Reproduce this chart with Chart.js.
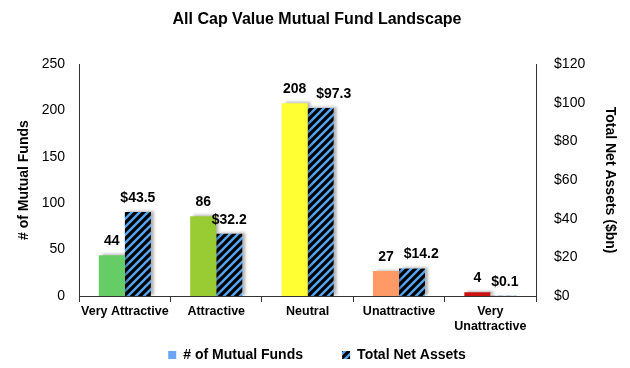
<!DOCTYPE html>
<html>
<head>
<meta charset="utf-8">
<script src="https://cdn.jsdelivr.net/npm/chart.js@4.4.1/dist/chart.umd.min.js"></script>
<style>
  html, body { margin: 0; padding: 0; background: #fff; }
</style>
</head>
<body>
<canvas id="chart" width="630" height="368"></canvas>
<script>
// data
const categories = ['Very Attractive', 'Attractive', 'Neutral', 'Unattractive', ['Very', 'Unattractive']];
const fundCounts = [44, 86, 208, 27, 4];
const netAssets = [43.5, 32.2, 97.3, 14.2, 0.1];
const barColors = ['#66CC66', '#99CC33', '#FFFF33', '#FF9966', '#CC1111'];
const leftTicks = [0, 250, 50];
const rightTicks = [0, 120, 20];

const FONT = '"Liberation Sans", Arial, sans-serif';

function makeHatch() {
  const c = document.createElement('canvas');
  c.width = 8; c.height = 8;
  const g = c.getContext('2d');
  g.fillStyle = '#000';
  g.fillRect(0, 0, 8, 8);
  g.strokeStyle = '#55A5F2';
  g.lineWidth = 2.4;
  g.beginPath();
  g.moveTo(-2, 10); g.lineTo(10, -2);
  g.moveTo(-6, 6); g.lineTo(6, -6);
  g.moveTo(2, 14); g.lineTo(14, 2);
  g.stroke();
  return g.createPattern(c, 'repeat');
}
const hatch = makeHatch();

// grey drop shadow behind the bars
const shadowPlugin = {
  id: 'barShadow',
  beforeDatasetsDraw(chart) {
    const ctx = chart.ctx;
    ctx.save();
    ctx.shadowColor = 'rgba(0,0,0,0.3)';
    ctx.shadowBlur = 3;
    ctx.shadowOffsetX = 3;
    ctx.shadowOffsetY = -1;
  },
  afterDatasetsDraw(chart) {
    chart.ctx.restore();
  }
};

// value labels above bars, the $ label is nudged right when it hits the count label
const labelPlugin = {
  id: 'valueLabels',
  afterDatasetsDraw(chart) {
    const ctx = chart.ctx;
    ctx.save();
    ctx.font = 'bold 14px ' + FONT;
    ctx.fillStyle = '#000';
    ctx.textAlign = 'center';
    ctx.textBaseline = 'middle';
    const m0 = chart.getDatasetMeta(0).data;
    const m1 = chart.getDatasetMeta(1).data;
    categories.forEach((c, i) => {
      const t0 = String(fundCounts[i]);
      const t1 = '$' + netAssets[i].toFixed(1);
      const y0 = m0[i].y - 14, y1 = m1[i].y - 14;
      let x1 = m1[i].x;
      const w0 = ctx.measureText(t0).width, w1 = ctx.measureText(t1).width;
      const right0 = m0[i].x + w0 / 2;
      if (Math.abs(y0 - y1) < 16 && x1 - w1 / 2 < right0 + 10) {
        x1 = right0 + 10 + w1 / 2;
      }
      ctx.fillText(t0, m0[i].x, y0);
      ctx.fillText(t1, x1, y1);
    });
    ctx.restore();
  }
};

// push the legend a few px lower
const legendNudge = {
  id: 'legendNudge',
  afterLayout(chart) {
    chart.legend.top += 4;
    chart.legend.bottom += 4;
  }
};

new Chart(document.getElementById('chart'), {
  type: 'bar',
  data: {
    labels: categories,
    datasets: [
      {
        label: '# of Mutual Funds',
        data: fundCounts,
        backgroundColor: barColors,
        yAxisID: 'y',
        categoryPercentage: 0.57,
        barPercentage: 1
      },
      {
        label: 'Total Net Assets',
        data: netAssets,
        backgroundColor: hatch,
        yAxisID: 'y1',
        categoryPercentage: 0.57,
        barPercentage: 1
      }
    ]
  },
  options: {
    responsive: false,
    devicePixelRatio: 1,
    animation: false,
    layout: { padding: { left: 12, right: 8, top: 4, bottom: 0 } },
    plugins: {
      title: {
        display: true,
        text: 'All Cap Value Mutual Fund Landscape',
        font: { family: FONT, size: 16, weight: 'bold' },
        color: '#000',
        padding: { top: 6, bottom: 35 }
      },
      legend: {
        position: 'bottom',
        labels: {
          font: { family: FONT, size: 14, weight: 'bold' },
          color: '#000',
          boxWidth: 8,
          boxHeight: 8,
          padding: 8,
          generateLabels(chart) {
            return [
              { text: '# of Mutual Funds        ', fillStyle: '#6AA6F8', strokeStyle: '#6AA6F8', lineWidth: 0, datasetIndex: 0 },
              { text: 'Total Net Assets', fillStyle: hatch, strokeStyle: '#000', lineWidth: 0, datasetIndex: 1 }
            ];
          }
        }
      },
      tooltip: { enabled: false }
    },
    scales: {
      x: {
        grid: { display: true, drawOnChartArea: false, drawTicks: true, tickLength: 6, color: '#333', offset: true },
        border: { display: true, color: '#333' },
        ticks: { font: { family: FONT, size: 12.5, weight: 'bold' }, color: '#000', maxRotation: 0, autoSkip: false, padding: 2 }
      },
      y: {
        position: 'left',
        min: leftTicks[0],
        max: leftTicks[1],
        grid: { display: false },
        border: { display: true, color: '#333' },
        ticks: { stepSize: leftTicks[2], font: { family: FONT, size: 14 }, color: '#000', padding: 6 },
        title: { display: true, text: '# of Mutual Funds', font: { family: FONT, size: 14, weight: 'bold' }, color: '#000', padding: { top: 4, bottom: 3 } }
      },
      y1: {
        position: 'right',
        min: rightTicks[0],
        max: rightTicks[1],
        grid: { display: false },
        border: { display: true, color: '#333' },
        ticks: {
          stepSize: rightTicks[2],
          font: { family: FONT, size: 14 },
          color: '#000',
          padding: 10,
          callback: v => '$' + v
        },
        title: { display: true, text: 'Total Net Assets ($bn)', font: { family: FONT, size: 14, weight: 'bold' }, color: '#000', padding: { top: 4, bottom: 6 } }
      }
    }
  },
  plugins: [shadowPlugin, labelPlugin, legendNudge]
});
</script>
</body>
</html>
